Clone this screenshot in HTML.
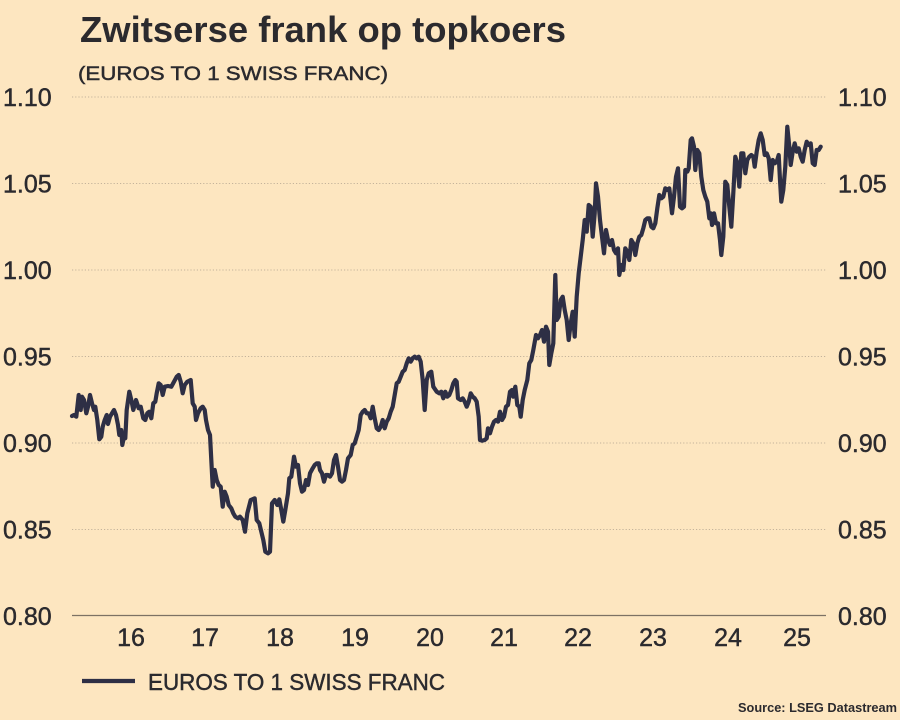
<!DOCTYPE html>
<html>
<head>
<meta charset="utf-8">
<style>
  html, body { margin: 0; padding: 0; background: #fde6c0; }
  svg { display: block; }
  text { font-family: "Liberation Sans", sans-serif; fill: #2b2a2e; }
  .med { stroke: #2b2a2e; stroke-width: 0.45; }
</style>
</head>
<body>
<svg width="900" height="720" viewBox="0 0 900 720" xmlns="http://www.w3.org/2000/svg">
  <rect x="0" y="0" width="900" height="720" fill="#fde6c0"/>

  <!-- Title -->
  <text x="80" y="42" font-size="36" font-weight="bold" textLength="486" lengthAdjust="spacingAndGlyphs">Zwitserse frank op topkoers</text>
  <text class="med" x="78" y="80" font-size="19" textLength="310" lengthAdjust="spacingAndGlyphs">(EUROS TO 1 SWISS FRANC)</text>

  <!-- Grid lines -->
  <g stroke="#c4b39b" stroke-width="1" stroke-dasharray="1.2,2">
    <line x1="72" y1="97" x2="826" y2="97"/>
    <line x1="72" y1="183.5" x2="826" y2="183.5"/>
    <line x1="72" y1="270" x2="826" y2="270"/>
    <line x1="72" y1="356.5" x2="826" y2="356.5"/>
    <line x1="72" y1="443" x2="826" y2="443"/>
    <line x1="72" y1="529.5" x2="826" y2="529.5"/>
  </g>
  <line x1="72" y1="615.5" x2="826" y2="615.5" stroke="#7d7264" stroke-width="1.2"/>

  <!-- Left Y labels -->
  <g font-size="25" class="med">
    <text x="3" y="106">1.10</text>
    <text x="3" y="192.5">1.05</text>
    <text x="3" y="279">1.00</text>
    <text x="3" y="365.5">0.95</text>
    <text x="3" y="452">0.90</text>
    <text x="3" y="538.5">0.85</text>
    <text x="3" y="625">0.80</text>
  </g>
  <!-- Right Y labels -->
  <g font-size="25" class="med">
    <text x="838" y="106">1.10</text>
    <text x="838" y="192.5">1.05</text>
    <text x="838" y="279">1.00</text>
    <text x="838" y="365.5">0.95</text>
    <text x="838" y="452">0.90</text>
    <text x="838" y="538.5">0.85</text>
    <text x="838" y="625">0.80</text>
  </g>

  <!-- X labels -->
  <g font-size="25" text-anchor="middle" class="med">
    <text x="131" y="646">16</text>
    <text x="205" y="646">17</text>
    <text x="280" y="646">18</text>
    <text x="355" y="646">19</text>
    <text x="430" y="646">20</text>
    <text x="504" y="646">21</text>
    <text x="578" y="646">22</text>
    <text x="653" y="646">23</text>
    <text x="728" y="646">24</text>
    <text x="797" y="646">25</text>
  </g>

  <!-- Series -->
  <path fill="none" stroke="#2e2f45" stroke-width="4.2" stroke-linejoin="round" stroke-linecap="round"
    d="M72,416 L74,415 L76.3,416.7 L78.7,395 L80.7,410 L82,396.7 L84,400 L86.3,413.3 L88,406.7 L90,395 L92,403.3 L94,410 L95.3,406.7 L97.3,420 L99.3,439.3 L101.3,436.7 L102.7,426.7 L104.7,420 L106.7,415 L108,424 L110,416.7 L112,413.3 L114,410 L116,415 L118,425 L119.3,435 L121.3,430 L122.3,445 L124,436.7 L125.3,438.3 L126.7,410 L129.3,391.7 L131.3,400 L133.3,410 L136,400 L138.7,408.3 L140.7,406.7 L143.3,418.3 L145.3,420 L147.3,413.3 L149.3,411.7 L151.3,418.3 L153.3,403.3 L155.3,401.7 L156.7,393.3 L158.7,383.3 L160.7,385 L162.7,395 L164.7,386.7 L168,386 L171.3,386.7 L174,381.7 L176.7,376.7 L178.7,375 L180.7,381.7 L182.7,393.3 L184.7,385 L187.3,381.7 L190.7,380 L192.7,403.3 L194.7,406.7 L196,420 L198,413.3 L200.7,408.3 L202.7,406.7 L204.7,410 L206,420 L208,430 L210,435 L211.3,460 L212.7,486.7 L214.7,470 L216.7,480 L218.7,485 L220.7,486.7 L222.7,506.7 L224.7,491.7 L226.7,496.7 L228.7,505 L231.3,508.3 L233.3,513.3 L235.3,516.7 L238,518.3 L240,516.7 L242.7,520 L245,531.7 L247.3,513.3 L250.7,500 L254.7,498.3 L256.7,520 L259.3,523.3 L261.3,531.7 L263.3,540 L265.3,551.7 L268,553.3 L270,551.7 L272,503.3 L274.7,500 L277.3,505 L279.3,499.3 L281.3,510 L283.3,521.7 L285.3,510 L288,493.3 L289.3,478.3 L291.3,476.7 L292.7,466.7 L294,456.7 L296,466.7 L298,465 L300,483.3 L302,491.7 L304,490 L306,480 L308,485 L310,473.3 L312.7,468.3 L314.7,465 L316.7,463.3 L318.7,463.3 L320,470 L322,473.3 L324,481.7 L326,475 L328,475 L330,476.7 L332,473.3 L334,460 L336,455 L338,466.7 L340,480 L342,481.7 L344,480 L346,470 L348,458.3 L350.7,455 L352.7,445 L354.7,443.3 L356.7,436.7 L358.7,430 L360.7,415 L362.7,411.7 L364.7,410 L366.7,413.3 L368.7,413.3 L370.7,418.3 L372.7,406.7 L374.7,418.3 L376.7,428.3 L378.7,430 L380.7,426.7 L382.7,420 L384.7,428.3 L386.7,421.7 L388.7,418.3 L390.7,411.7 L392.7,406.7 L394.7,395 L396.7,383.3 L398.7,381.7 L400.7,376.7 L402.7,371.7 L404.7,370 L406.7,363.3 L408.7,358.3 L410.7,361.7 L412.7,358.3 L414.7,356.7 L416.7,358.3 L418.7,356.7 L420.7,361.7 L422.7,380 L424.7,410 L426.7,380 L428.7,373.3 L431.3,371.7 L433.3,386.7 L436.7,391.7 L439.3,393.3 L441.3,391.7 L443.3,398.3 L445.3,391.7 L447.3,396.7 L449.3,395 L451.3,390 L453.3,383.3 L455.3,380 L456.7,381.7 L458,398.3 L460.7,400 L462.7,398.3 L464.7,401.7 L466.7,406.7 L468.7,401.7 L470.7,393.3 L472.7,396.7 L474.7,398.3 L476.7,401.7 L478.7,416.7 L480,440 L482,440.7 L484.7,440 L486.7,438.3 L488,428.3 L490,433.3 L492,426.7 L494,421.7 L496,420 L498,421.7 L500,411.7 L502,420 L504,416.7 L506,406.7 L508,405 L510,391.7 L512,390 L513.3,396.7 L515.3,386.7 L517.3,405 L519.3,406.7 L520.7,416.7 L522.7,400 L524.7,390 L527.3,380 L529.3,363.3 L531.3,360 L533.3,350 L536,335 L538,338.3 L540,335 L542,330 L544,341.7 L546,326.7 L548,331.7 L549.3,365 L551.3,353.3 L553.3,343.3 L555.3,275 L556.7,320 L558.7,316.7 L560.7,300 L562.7,296.7 L564.7,310 L566.7,320 L568.7,340 L570.7,323.3 L572.7,311.7 L574.7,336.7 L576.7,296.7 L578.7,273.3 L580.7,256.7 L582.7,240 L584.7,220 L586.7,231.7 L588.7,205 L590.7,206.7 L592.7,236.7 L594.7,213.3 L596,183.3 L598,196.7 L600,220 L602,236.7 L604,253.3 L606,230 L608,240 L610,245 L612,240 L614,250 L616,253.3 L618,248.3 L619.3,275 L621.3,265 L623.3,270 L625.3,248.3 L627.3,251.7 L629.3,260 L631.3,240 L633.3,243.3 L635.3,255 L637.3,243.3 L639.3,236.7 L641.3,235 L643.3,228.3 L645.3,220 L647.3,218.3 L649.3,218.3 L651.3,226.7 L653.3,228.3 L655.3,223.3 L657.3,208.3 L659.3,195 L661.3,198.3 L663.3,196.7 L665.3,188.3 L667.3,190 L669.3,188.3 L672,213.3 L674,196.7 L676,176.7 L678,168.3 L680,206.7 L682,208.3 L684,206.7 L685.3,170 L687.3,171.7 L688.7,168.3 L690.7,140 L692,138.3 L694,146.7 L695.3,170 L697.3,150 L699.3,153.3 L701.3,176.7 L703.3,190 L705.3,196.7 L707.3,201.7 L709.3,218.3 L710.7,213.3 L712,225 L714,213.3 L716,223.3 L718,223.3 L720,240 L721.3,255 L723.3,236.7 L725.3,181.7 L727.3,185 L729.3,206.7 L731.3,226.7 L733.3,193.3 L735.3,156.7 L737.3,163.3 L739.3,186.7 L741.3,153.3 L743.3,153.3 L745.3,173.3 L747.3,160 L749.3,156.7 L751.3,155 L753.3,156.7 L754.7,166.7 L756.7,151.7 L758.7,140 L760.7,133.3 L762.7,140 L764.7,155 L766.7,153.3 L768.7,158.3 L770.7,180 L772.7,160 L774.7,163.3 L776.7,161.7 L778.7,155 L780,180 L781.3,201.7 L783.3,190 L785.3,166.7 L787.3,126.7 L789.3,146.7 L790.7,165 L792.7,151.7 L794.7,143.3 L796.7,151.7 L798.7,148.3 L800.7,156.7 L802.7,161.7 L804.7,150 L806.7,141.7 L808.7,145 L810.7,143.3 L812.7,163.3 L814.7,165 L816.7,150 L818.7,150 L820.7,146.7"/>

  <!-- Legend -->
  <line x1="82" y1="681" x2="135" y2="681" stroke="#2e2f45" stroke-width="4.2"/>
  <text class="med" x="148" y="690" font-size="23" textLength="297" lengthAdjust="spacingAndGlyphs">EUROS TO 1 SWISS FRANC</text>

  <!-- Source -->
  <text x="897" y="712" font-size="13" font-weight="bold" text-anchor="end" textLength="159" lengthAdjust="spacingAndGlyphs">Source: LSEG Datastream</text>
</svg>
</body>
</html>
